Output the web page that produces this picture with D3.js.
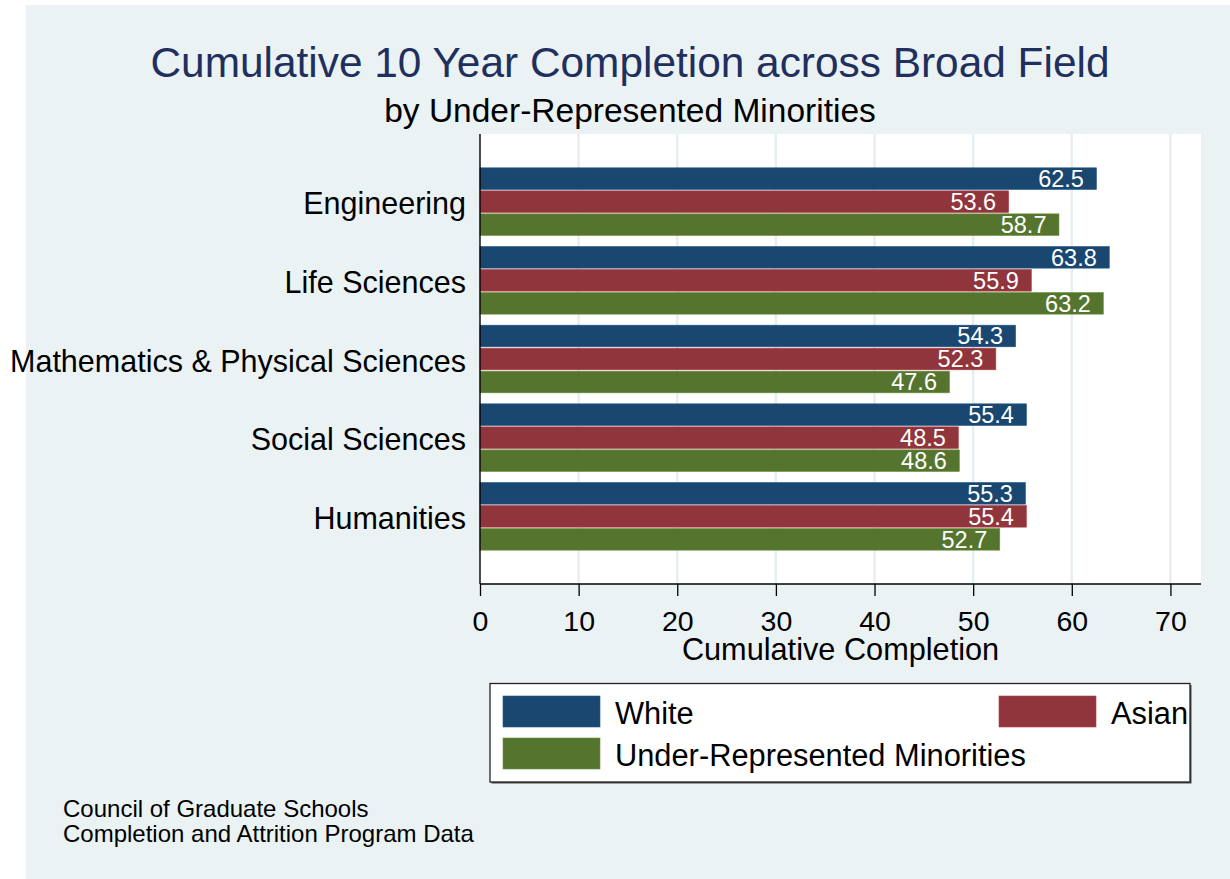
<!DOCTYPE html>
<html>
<head>
<meta charset="utf-8">
<script src="https://cdn.jsdelivr.net/npm/d3@7"></script>
<style>
  html, body { margin: 0; padding: 0; background: #ffffff; }
  svg { display: block; }
  text { font-family: "Liberation Sans", Arial, Helvetica, sans-serif; }
</style>
</head>
<body>
<svg id="chart" width="1230" height="879"></svg>
<script>
// ---- data ----
const categories = ["Engineering", "Life Sciences", "Mathematics & Physical Sciences", "Social Sciences", "Humanities"];
const seriesNames = ["White", "Asian", "Under-Represented Minorities"];
const white = [62.5, 63.8, 54.3, 55.4, 55.3];
const asian = [53.6, 55.9, 52.3, 48.5, 55.4];
const urm   = [58.7, 63.2, 47.6, 48.6, 52.7];
const xTicks = [0, 10, 20, 30, 40, 50, 60, 70];
const titleText = "Cumulative 10 Year Completion across Broad Field";
const subtitleText = "by Under-Represented Minorities";
const xAxisTitle = "Cumulative Completion";
const noteLines = ["Council of Graduate Schools", "Completion and Attrition Program Data"];

const seriesValues = [white, asian, urm];
const colors = ["#1a476f", "#90353b", "#55752f"];

const svg = d3.select("#chart");

// graph region background
svg.append("rect").attr("x", 26).attr("y", 5).attr("width", 1230 - 26).attr("height", 879 - 5)
  .attr("fill", "#eaf2f3");

// plot region
const plot = { left: 480, right: 1201, top: 134, bottom: 584 };
svg.append("rect").attr("x", plot.left).attr("y", plot.top)
  .attr("width", plot.right - plot.left).attr("height", plot.bottom - plot.top)
  .attr("fill", "#ffffff");

const x = d3.scaleLinear().domain([0, 73.1]).range([plot.left, plot.right]);
const y0 = d3.scaleBand().domain(categories).range([plot.top, plot.bottom])
  .paddingInner(0.14).paddingOuter(0.43);
const y1 = d3.scaleBand().domain(seriesNames).range([0, y0.bandwidth()]).paddingInner(0.06);
const color = d3.scaleOrdinal().domain(seriesNames).range(colors);

// gridlines
svg.append("g").selectAll("line").data(xTicks.filter(d => d > 0)).join("line")
  .attr("x1", d => x(d)).attr("x2", d => x(d))
  .attr("y1", plot.top).attr("y2", plot.bottom)
  .attr("stroke", "#e6eef1").attr("stroke-width", 2.5);

// bars
const rows = categories.map((c, i) => ({
  cat: c,
  vals: seriesNames.map((s, j) => ({ cat: c, series: s, value: seriesValues[j][i] }))
}));

const groups = svg.append("g").selectAll("g").data(rows).join("g")
  .attr("transform", d => `translate(0,${y0(d.cat)})`);

groups.selectAll("rect").data(d => d.vals).join("rect")
  .attr("x", x(0))
  .attr("y", d => y1(d.series))
  .attr("width", d => x(d.value) - x(0))
  .attr("height", y1.bandwidth())
  .attr("fill", d => color(d.series))
  .attr("stroke", d => d3.color(color(d.series)).brighter(0.6))
  .attr("stroke-width", 0.6);

groups.selectAll("text").data(d => d.vals).join("text")
  .attr("x", d => x(d.value) - 12.5)
  .attr("y", d => y1(d.series) + y1.bandwidth() / 2 + 8.5)
  .attr("text-anchor", "end")
  .attr("font-size", 23.5)
  .attr("fill", "#ffffff")
  .text(d => d.value.toFixed(1));

// x axis
const xAxis = d3.axisBottom(x).tickValues(xTicks).tickSize(12).tickPadding(0).tickFormat(d3.format("d"));
const gx = svg.append("g").attr("transform", `translate(0,${plot.bottom})`).call(xAxis);
gx.select(".domain").remove();
gx.selectAll(".tick line").attr("stroke", "#000").attr("stroke-width", 1.3);
gx.selectAll(".tick text").attr("font-size", 28.5).attr("fill", "#000")
  .attr("dy", null).attr("y", 47);
gx.append("line").attr("x1", plot.left).attr("x2", plot.right).attr("y1", 0).attr("y2", 0)
  .attr("stroke", "#000").attr("stroke-width", 1.4);

// y axis
const yAxis = d3.axisLeft(y0).tickSize(0).tickPadding(14);
const gy = svg.append("g").attr("transform", `translate(${plot.left},0)`).call(yAxis);
gy.select(".domain").attr("stroke", "#000").attr("stroke-width", 1.4)
  .attr("d", `M0,${plot.top}V${plot.bottom}`);
gy.selectAll(".tick text").attr("font-size", 30.5).attr("fill", "#000")
  .attr("dy", null).attr("y", 12.5);

// titles
svg.append("text").attr("x", 630).attr("y", 77).attr("text-anchor", "middle")
  .attr("font-size", 42.4).attr("fill", "#1f2f5e").text(titleText);
svg.append("text").attr("x", 630).attr("y", 121.5).attr("text-anchor", "middle")
  .attr("font-size", 33.5).attr("fill", "#000").text(subtitleText);
svg.append("text").attr("x", (plot.left + plot.right) / 2).attr("y", 659.5).attr("text-anchor", "middle")
  .attr("font-size", 30.7).attr("fill", "#000").text(xAxisTitle);

// legend
const lg = svg.append("g");
lg.append("rect").attr("x", 491.5).attr("y", 685).attr("width", 700).attr("height", 98.5)
  .attr("fill", "#4a4a4a");
lg.append("rect").attr("x", 490).attr("y", 683.5).attr("width", 700).attr("height", 98.5)
  .attr("fill", "#ffffff").attr("stroke", "#222").attr("stroke-width", 1.3);
const legendItems = [
  { name: seriesNames[0], sx: 503, ty: 696 },
  { name: seriesNames[1], sx: 999, ty: 696 },
  { name: seriesNames[2], sx: 503, ty: 738 }
];
lg.selectAll("rect.sw").data(legendItems).join("rect").attr("class", "sw")
  .attr("x", d => d.sx).attr("y", d => d.ty).attr("width", 97).attr("height", 31)
  .attr("fill", d => color(d.name))
  .attr("stroke", d => d3.color(color(d.name)).brighter(0.6)).attr("stroke-width", 0.6);
lg.selectAll("text").data(legendItems).join("text")
  .attr("x", d => d.sx + 112).attr("y", d => d.ty + 27.5)
  .attr("font-size", 30.8).attr("fill", "#000").text(d => d.name);

// note
svg.append("g").selectAll("text").data(noteLines).join("text")
  .attr("x", 63).attr("y", (d, i) => 817 + i * 24.5)
  .attr("font-size", 24).attr("fill", "#000").text(d => d);
</script>
</body>
</html>
